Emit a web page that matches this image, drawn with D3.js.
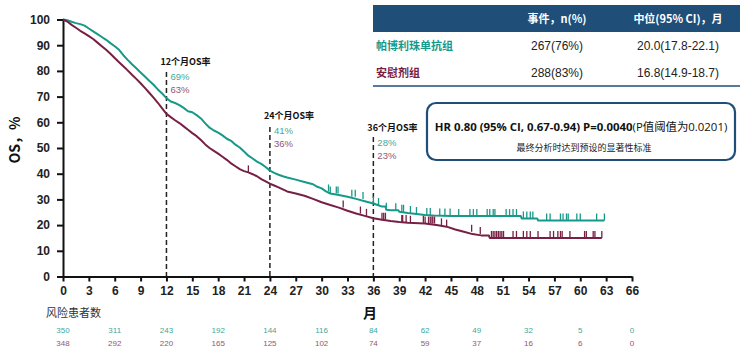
<!DOCTYPE html>
<html><head><meta charset="utf-8">
<script src="https://cdn.jsdelivr.net/npm/d3@7/dist/d3.min.js"></script>
<style>
body{margin:0;background:#fff;}
svg{display:block;}
</style></head>
<body><svg id="c" width="741" height="357"></svg>
<script>
// ---- data ----
const xTicks = [0,3,6,9,12,15,18,21,24,27,30,33,36,39,42,45,48,51,54,57,60,63,66];
const yTicks = [0,10,20,30,40,50,60,70,80,90,100];

const pembroTimes = [0,0.5,1,1.5,2,2.5,3,3.5,4,4.5,5,5.5,6,6.5,7,7.5,8,8.5,9,9.5,10,10.5,11,11.5,12,12.5,13,13.5,14,14.5,15,15.5,16,16.5,17,17.5,18,18.5,19,19.5,20,20.5,21,21.5,22,22.5,23,23.5,24,24.5,25,25.5,26,27,28,29,29.5,30,30.5,31,32,33,34,35,36,36.5,37,37.4,37.5,38,38.9,39,40,41,42,43,45,53.1,53.2,55.0,55.1,62.8];
const pembroSurv  = [100,99.7,99.1,98.6,98.2,97.6,96.5,95.4,94.3,93.2,92.1,90.8,89.6,88.2,86.1,84.3,82.6,81.0,79.4,77.8,76.2,74.6,72.8,71.2,69.4,68.1,67.5,66.7,65.6,64.3,63.9,62.8,61.5,59.6,57.9,56.8,56.0,54.9,53.6,52.8,51.3,50.2,48.6,47.0,45.9,44.7,43.8,42.6,41.2,40.3,39.6,39.0,38.5,37.7,36.8,35.9,34.9,34.3,33.1,32.3,31.7,31.0,30.2,29.3,28.4,27.8,27.2,27.2,26.0,25.8,25.8,25.2,24.7,24.3,23.9,23.7,23.5,23.5,22.6,22.6,21.8,21.8];
const pembroCensor = [30.8,31.0,31.7,31.9,33.5,33.9,34.8,36.0,36.6,37.5,38.6,39.3,39.5,40.3,41.0,42.2,42.6,43.7,44.3,44.9,45.9,47.2,47.6,48.0,49.2,49.5,49.9,50.1,51.4,51.8,52.2,52.6,53.4,53.8,54.2,54.5,56.1,56.5,57.7,58.0,58.4,58.6,59.6,60.0,61.9,62.8];

const placeboTimes = [0,0.5,1,1.5,2,2.5,3,3.5,4,4.5,5,5.5,6,6.5,7,7.5,8,8.5,9,9.5,10,10.5,11,11.5,12,12.5,13,13.5,14,14.5,15,15.5,16,16.5,17,17.5,18,18.5,19,19.5,20,20.5,21,21.5,22,22.5,23,23.5,24,24.5,25,26,27,28,29,30,31,32,33,34,35,36,37,38,39,40,42,43.5,44.5,45.5,46.5,47.5,48.5,49.4,49.5,62.5];
const placeboSurv  = [100,99.2,97.9,96.8,95.6,94.6,93.5,92.4,91.0,89.6,88.2,86.7,85.0,83.4,81.8,80.2,78.5,76.9,75.2,73.4,71.5,69.6,67.6,65.4,63.3,62.0,60.8,59.7,58.4,57.1,55.8,54.6,53.1,51.4,50.0,48.9,47.8,46.6,45.4,44.0,42.9,41.8,41.0,40.5,39.8,39.0,37.9,37.0,36.1,35.4,34.7,33.1,32.3,31.4,30.2,28.9,27.8,26.8,25.6,24.5,23.6,22.7,22.1,21.6,21.2,20.9,20.6,19.9,19.4,18.3,17.4,16.5,16.0,16.0,15.0,15.0];
const placeboCensor = [21.5,32.5,34.5,35.2,37.0,37.2,37.4,39.3,39.4,39.8,40.3,41.8,42.0,42.4,42.6,42.8,42.9,43.1,43.9,44.5,47.4,48.4,49.7,49.9,50.1,50.3,50.5,50.7,50.9,51.1,52.2,52.6,53.4,53.8,54.2,55.1,56.5,56.9,57.4,57.7,57.9,58.8,60.5,60.7,61.5,61.7,62.5];

const riskTimes = [0,6,12,18,24,30,36,42,48,54,60,66];
const riskPembro = [350,311,243,192,144,116,84,62,49,32,5,0];
const riskPlacebo = [348,292,220,165,125,102,74,59,37,16,6,0];

const landmarks = [12,24,36];
const landmarkLabels = ["12个月OS率","24个月OS率","36个月OS率"];
const landmarkPembro = ["69%","41%","28%"];
const landmarkPlacebo = ["63%","36%","23%"];

const groupNames = ["帕博利珠单抗组","安慰剂组"];
const tableHeaders = ["事件，n(%)","中位(95% CI)，月"];
const events = ["267(76%)","288(83%)"];
const medians = ["20.0(17.8-22.1)","16.8(14.9-18.7)"];

// ---- styles ----
const TEAL = "#17998a", MAROON = "#762044";
const TEAL_T = "#3fa89c", MAROON_T = "#93566f";
const BLUE = "#1f4e79";
const CJK = "'Noto Sans CJK SC','Noto Sans',sans-serif";
const LAT = "'Liberation Sans Narrow','Liberation Sans',Arial,sans-serif";

const svg = d3.select("#c");
const x = d3.scaleLinear().domain([0,66]).range([63,632]);
const y = d3.scaleLinear().domain([0,100]).range([276.5,19.5]);

// axes
const xAxis = svg.append("g").attr("transform",`translate(0,${y(0)})`)
  .call(d3.axisBottom(x).tickValues(xTicks).tickSize(5).tickSizeOuter(0).tickPadding(5));
const yAxis = svg.append("g").attr("transform",`translate(${x(0)},0)`)
  .call(d3.axisLeft(y).tickValues(yTicks).tickSize(6).tickSizeOuter(0).tickPadding(7));
[xAxis,yAxis].forEach(g=>{
  g.selectAll("path,line").attr("stroke","#111").attr("stroke-width",2);
  g.selectAll("text").attr("font-family",LAT).attr("font-weight","bold").attr("font-size",12).attr("fill","#222");
});

// landmark dashed lines
const dashTops = [72,127,137];
landmarks.forEach((m,i)=>{
  svg.append("line").attr("x1",x(m)).attr("x2",x(m)).attr("y1",dashTops[i]).attr("y2",y(0))
    .attr("stroke","#222").attr("stroke-width",1.5).attr("stroke-dasharray","5,3");
});

// curves
const line = d3.line().x(d=>x(d[0])).y(d=>y(d[1])).curve(d3.curveLinear);
function drawSeries(times, surv, censor, color){
  const pts = times.map((t,i)=>[t,surv[i]]);
  svg.append("path").datum(pts).attr("d",line).attr("fill","none")
    .attr("stroke",color).attr("stroke-width",2).attr("stroke-linejoin","round");
  censor.forEach(c=>{
    const idx = d3.bisectRight(times,c)-1;
    const v = surv[Math.max(0,idx)];
    svg.append("line").attr("x1",x(c)).attr("x2",x(c)).attr("y1",y(v)).attr("y2",y(v)-7)
      .attr("stroke",color).attr("stroke-width",1.3);
  });
}
drawSeries(pembroTimes,pembroSurv,pembroCensor,TEAL);
drawSeries(placeboTimes,placeboSurv,placeboCensor,MAROON);

// landmark labels
const lblY = [65,119,131];
landmarks.forEach((m,i)=>{
  svg.append("text").attr("x",x(m)-6).attr("y",lblY[i]).text(landmarkLabels[i])
    .attr("font-family",CJK).attr("font-weight","bold").attr("font-size",9).attr("fill","#111");
  svg.append("text").attr("x",x(m)+4).attr("y",lblY[i]+15).text(landmarkPembro[i])
    .attr("font-family",LAT).attr("font-size",9.5).attr("fill",TEAL_T);
  svg.append("text").attr("x",x(m)+4).attr("y",lblY[i]+28).text(landmarkPlacebo[i])
    .attr("font-family",LAT).attr("font-size",9.5).attr("fill",MAROON_T);
});

// axis titles
svg.append("text").attr("transform","translate(20,140) rotate(-90)").attr("text-anchor","middle")
  .text("OS，%").attr("font-family",CJK).attr("font-weight","bold").attr("font-size",14).attr("fill","#111");
svg.append("text").attr("x",370).attr("y",318).attr("text-anchor","middle").text("月")
  .attr("font-family",CJK).attr("font-weight","bold").attr("font-size",14).attr("fill","#111");
svg.append("text").attr("x",46).attr("y",317).text("风险患者数")
  .attr("font-family",CJK).attr("font-size",11).attr("fill","#333");

// risk table
riskTimes.forEach((t,i)=>{
  svg.append("text").attr("x",x(t)).attr("y",333).attr("text-anchor","middle").text(riskPembro[i])
    .attr("font-family",LAT).attr("font-size",8).attr("fill",TEAL_T);
  svg.append("text").attr("x",x(t)).attr("y",346).attr("text-anchor","middle").text(riskPlacebo[i])
    .attr("font-family",LAT).attr("font-size",8).attr("fill",MAROON_T);
});

// summary table
svg.append("rect").attr("x",373).attr("y",5).attr("width",367).attr("height",27).attr("fill",BLUE);
const colX = [557,678];
tableHeaders.forEach((h,i)=>{
  svg.append("text").attr("x",colX[i]).attr("y",23).attr("text-anchor","middle").text(h)
    .attr("font-family",CJK).attr("font-weight","bold").attr("font-size",11).attr("fill","#fff");
});
const rowY = [50,77];
const rowColor = [TEAL, MAROON];
groupNames.forEach((g,i)=>{
  svg.append("text").attr("x",376).attr("y",rowY[i]).text(g)
    .attr("font-family",CJK).attr("font-weight","bold").attr("font-size",11).attr("fill",rowColor[i]);
  svg.append("text").attr("x",colX[0]).attr("y",rowY[i]).attr("text-anchor","middle").text(events[i])
    .attr("font-family","'Liberation Sans',Arial,sans-serif").attr("font-size",12).attr("fill","#222");
  svg.append("text").attr("x",colX[1]).attr("y",rowY[i]).attr("text-anchor","middle").text(medians[i])
    .attr("font-family","'Liberation Sans',Arial,sans-serif").attr("font-size",12).attr("fill","#222");
});
svg.append("line").attr("x1",373).attr("x2",740).attr("y1",86).attr("y2",86).attr("stroke",BLUE).attr("stroke-width",1.5);

// HR box
svg.append("rect").attr("x",427).attr("y",103).attr("width",308).attr("height",57).attr("rx",9)
  .attr("fill","#fff").attr("stroke",BLUE).attr("stroke-width",2.2);
const hr = svg.append("text").attr("x",581).attr("y",131).attr("text-anchor","middle")
  .attr("font-family","'Open Sans','Noto Sans',sans-serif").attr("font-size",12).attr("fill","#111");
hr.append("tspan").attr("font-weight","bold").text("HR 0.80 (95% CI, 0.67-0.94) P=0.0040");
hr.append("tspan").attr("font-family","'Open Sans','Noto Sans CJK SC',sans-serif").text("(P值阈值为0.0201)");
const w = hr.node().getComputedTextLength();
hr.attr("font-size", 12*293/w);
svg.append("text").attr("x",584).attr("y",151).attr("text-anchor","middle").text("最终分析时达到预设的显著性标准")
  .attr("font-family",CJK).attr("font-size",9).attr("fill","#222");
</script></body></html>
